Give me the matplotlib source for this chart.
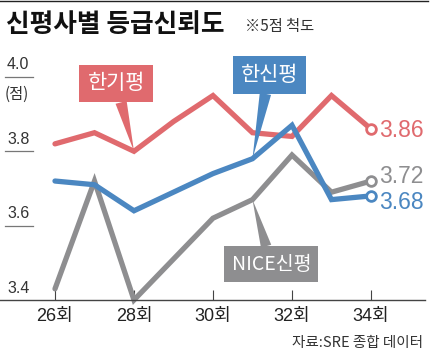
import matplotlib.pyplot as plt
from matplotlib.lines import Line2D

plt.rcParams['font.family'] = ['Noto Sans CJK KR', 'DejaVu Sans']

# data (5-point scale)
rounds = [26, 27, 28, 29, 30, 31, 32, 33, 34]
kis = [3.82, 3.85, 3.80, 3.88, 3.95, 3.85, 3.84, 3.95, 3.86]    # 한기평
kr = [3.72, 3.71, 3.64, 3.69, 3.74, 3.78, 3.87, 3.67, 3.68]     # 한신평
nice = [3.43, 3.72, 3.40, 3.51, 3.62, 3.67, 3.79, 3.69, 3.72]   # NICE신평
xticks = [26, 28, 30, 32, 34]
xlabels = ['26회', '28회', '30회', '32회', '34회']
yticks = [3.4, 3.6, 3.8, 4.0]

red = '#e06a6e'
blue = '#4b87c1'
gray = '#8e8e90'
num_font = ['Liberation Sans', 'DejaVu Sans']

fig = plt.figure(figsize=(4.3, 3.55), dpi=100)
ax = fig.add_axes([0, 0, 1, 1])
ax.set_xlim(24.608, 35.494)
ax.set_ylim(3.252, 4.207)

for s in ['left', 'right', 'top']:
    ax.spines[s].set_visible(False)
ax.spines['bottom'].set_position(('data', 3.4))
ax.spines['bottom'].set_bounds(24.608, 35.37)
ax.spines['bottom'].set_color('#444')
ax.spines['bottom'].set_linewidth(1)
ax.set_yticks([])
ax.set_xticks(xticks)
ax.set_xticklabels(xlabels, family=['Liberation Sans', 'Noto Sans CJK KR'])
ax.tick_params(axis='x', direction='in', length=7, width=0.8, color='#444',
               pad=6, labelsize=13, labelcolor='#222')

# y labels with short lines
ytr = ax.get_yaxis_transform()
for v in yticks:
    if v > 3.4:
        ax.plot([5/430, 33/430], [v, v], transform=ytr, color='#777', lw=0.9)
    ax.text(7/430, v + 0.012, '%.1f' % v, transform=ytr, va='bottom', ha='left',
            fontsize=11.5, color='#333', family=num_font)
ax.text(5/430, 3.952, '(점)', transform=ytr, va='center', ha='left', fontsize=11, color='#333')

# lines, end markers and end values
for vals, c, z, dy in [(nice, gray, 2, 3), (kis, red, 3, -1), (kr, blue, 4, -5)]:
    ax.plot(rounds, vals, color=c, lw=3.8, solid_capstyle='round',
            solid_joinstyle='miter', zorder=z, clip_on=False)
    ax.plot(rounds[-1], vals[-1], 'o', mfc='white', mec=c, mew=2, ms=7, zorder=z + 3)
    ax.annotate('%.2f' % vals[-1], (rounds[-1], vals[-1]), xytext=(6, dy),
                textcoords='offset points', va='center', ha='left', color=c,
                fontsize=16.5, family=num_font)

# callout labels
def callout(txt, xy, pos, c, size):
    ax.annotate(txt, xy=xy, xytext=pos, textcoords='axes fraction', ha='center',
                va='center', color='white', fontsize=size, zorder=6,
                bbox=dict(boxstyle='square,pad=0.38', fc=c, ec='none'),
                arrowprops=dict(arrowstyle='wedge,tail_width=0.55', fc=c, ec='none',
                                shrinkA=0, shrinkB=0))

callout('한기평', (rounds[2], kis[2]), (0.270, 0.765), red, 15)
callout('한신평', (rounds[5], kr[5]), (0.626, 0.789), blue, 15)
callout('NICE신평', (rounds[5], nice[5]), (0.631, 0.256), gray, 14)

# title, note, source
fig.text(6/430, 1 - 25/355, '신평사별 등급신뢰도', fontsize=18.5, fontweight='bold',
         va='center', ha='left', color='#111')
fig.text(245/430, 1 - 26/355, '※5점 척도', fontsize=11, va='center', ha='left', color='#333')
fig.text(423/430, 1 - 343/355, '자료:SRE 종합 데이터', fontsize=10.5, va='center',
         ha='right', color='#333')
fig.add_artist(Line2D([0, 428/430], [1 - 0.8/355, 1 - 0.8/355], color='#222', lw=1))

fig.savefig('out.png', dpi=100)
